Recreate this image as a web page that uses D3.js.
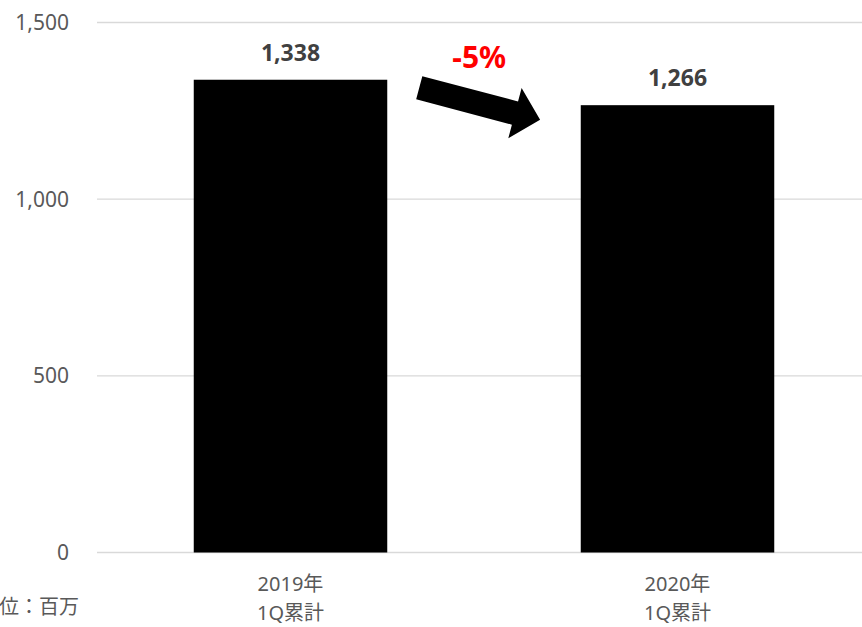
<!DOCTYPE html>
<html>
<head>
<meta charset="utf-8">
<script src="https://cdn.jsdelivr.net/npm/d3@7"></script>
<style>
  body { margin: 0; background: #fff; }
  svg { display: block; font-family: "Noto Sans", "Noto Sans CJK JP", sans-serif; }
</style>
</head>
<body>
<div id="chart"></div>
<script>
// chart data
var categories = ["2019年\n1Q累計", "2020年\n1Q累計"];
var values = [1338, 1266];
var yTicks = [0, 500, 1000, 1500];
var changeLabel = "-5%";
var unitLabel = "単位：百万";

var width = 862, height = 627;

var svg = d3.select("#chart").append("svg")
    .attr("width", width)
    .attr("height", height);

// scales
var x = d3.scaleBand()
    .domain(categories)
    .range([97, 871])
    .paddingInner(0.5)
    .paddingOuter(0.25);

var y = d3.scaleLinear()
    .domain([0, 1500])
    .range([552.5, 22.5]);

// gridlines
svg.append("g")
    .selectAll("line")
    .data(yTicks)
    .enter()
    .append("line")
    .attr("x1", 97)
    .attr("x2", width)
    .attr("y1", (d) => y(d))
    .attr("y2", (d) => y(d))
    .attr("stroke", "#d9d9d9")
    .attr("stroke-width", 1.3);

// y tick labels
svg.append("g")
    .selectAll("text")
    .data(yTicks)
    .enter()
    .append("text")
    .attr("x", 69)
    .attr("y", (d) => y(d) + 7.5)
    .attr("text-anchor", "end")
    .attr("fill", "#595959")
    .attr("font-size", 21)
    .text((d) => d3.format(",")(d));

// bars
svg.append("g")
    .selectAll("rect")
    .data(values)
    .enter()
    .append("rect")
    .attr("x", (d, i) => x(categories[i]))
    .attr("y", (d) => y(d))
    .attr("width", x.bandwidth())
    .attr("height", (d) => y(0) - y(d))
    .attr("fill", "#000");

// value labels
svg.append("g")
    .selectAll("text")
    .data(values)
    .enter()
    .append("text")
    .attr("x", (d, i) => x(categories[i]) + x.bandwidth() / 2)
    .attr("y", (d) => y(d) - 19)
    .attr("text-anchor", "middle")
    .attr("fill", "#404040")
    .attr("font-size", 23)
    .attr("font-weight", "bold")
    .text((d) => d3.format(",")(d));

// category labels (two lines)
var catText = svg.append("g")
    .selectAll("text")
    .data(categories)
    .enter()
    .append("text")
    .attr("text-anchor", "middle")
    .attr("fill", "#595959")
    .attr("font-size", 20);
catText.selectAll("tspan")
    .data((d, i) => d.split("\n").map((s) => ({ s: s, i: i })))
    .enter()
    .append("tspan")
    .attr("x", (d) => x(categories[d.i]) + x.bandwidth() / 2)
    .attr("y", (d, j) => 591 + j * 29)
    .text((d) => d.s);

// unit label (partly off the left edge, as in the source)
svg.append("text")
    .attr("x", 79)
    .attr("y", 614)
    .attr("text-anchor", "end")
    .attr("fill", "#595959")
    .attr("font-size", 20)
    .text(unitLabel);

// change arrow between the bars
var ax = x(categories[0]) + x.bandwidth() + 32;
var ay = y(values[0]) + 8;
var arrowShape = [[0, -12], [99, -12], [99, -26], [125, 0], [99, 26], [99, 12], [0, 12]];
svg.append("polygon")
    .attr("points", arrowShape.map((p) => p.join(",")).join(" "))
    .attr("transform", "translate(" + ax + "," + ay + ") rotate(14.8)")
    .attr("fill", "#000");

svg.append("text")
    .attr("x", ax + 60)
    .attr("y", ay - 20)
    .attr("text-anchor", "middle")
    .attr("fill", "#ff0000")
    .attr("font-size", 30)
    .attr("font-weight", "bold")
    .text(changeLabel);
</script>
</body>
</html>
